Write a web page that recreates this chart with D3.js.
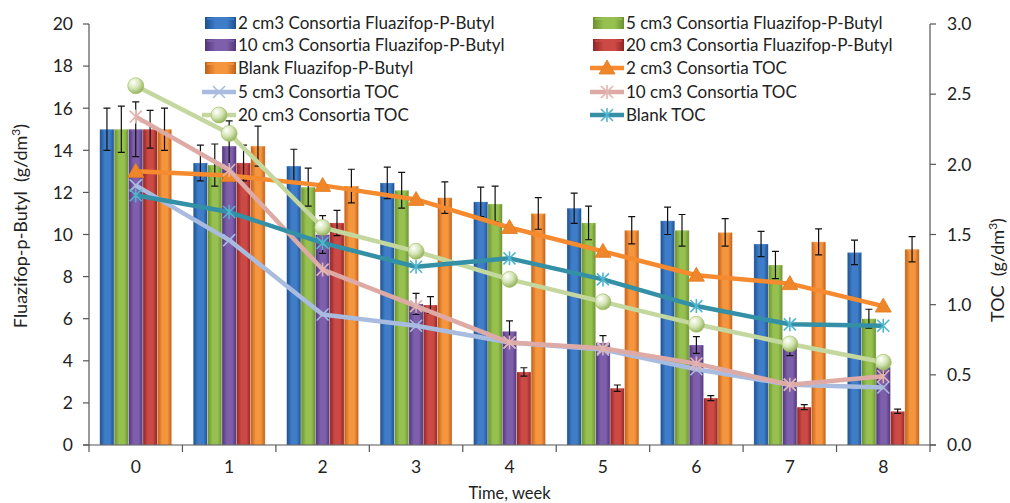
<!DOCTYPE html>
<html><head><meta charset="utf-8">
<script src="https://cdn.jsdelivr.net/npm/d3@7"></script>
<style>body{margin:0;background:#fff}svg{display:block}text{font-family:Lato,"Liberation Sans",sans-serif;fill:#222;font-variant-ligatures:none;white-space:pre}</style>
</head><body><svg id="c" width="1010" height="503"></svg>
<script>
const weeks = ["0","1","2","3","4","5","6","7","8"];
const barSeries = ["2 cm3 Consortia Fluazifop-P-Butyl","5 cm3 Consortia Fluazifop-P-Butyl","10 cm3 Consortia Fluazifop-P-Butyl","20 cm3 Consortia Fluazifop-P-Butyl","Blank Fluazifop-P-Butyl"];
const fpb2  = [15.0,13.4,13.25,12.45,11.55,11.25,10.65,9.55,9.15];
const fpb5  = [15.0,13.3,12.25,12.1,11.45,10.55,10.2,8.55,6.0];
const fpb10 = [15.0,14.2,10.0,6.7,5.4,4.85,4.75,4.65,3.7];
const fpb20 = [15.0,13.4,10.55,6.65,3.47,2.7,2.23,1.8,1.6];
const fpbBlank = [15.0,14.2,12.3,11.75,11.0,10.2,10.1,9.65,9.3];
const err2  = [1.0,0.85,0.8,0.75,0.7,0.72,0.65,0.6,0.58];
const err5  = [1.1,1.0,0.9,0.85,0.85,0.8,0.75,0.65,0.45];
const err10 = [1.3,1.2,0.9,0.5,0.5,0.35,0.4,0.4,0.3];
const err20 = [0.9,0.85,0.6,0.4,0.2,0.15,0.12,0.12,0.1];
const errBlank = [1.0,0.95,0.8,0.75,0.75,0.65,0.65,0.62,0.6];
const lineSeries = ["2 cm3 Consortia TOC","5 cm3 Consortia TOC","10 cm3 Consortia TOC","20 cm3 Consortia TOC","Blank TOC"];
const toc2  = [1.95,1.92,1.85,1.75,1.55,1.38,1.21,1.15,0.99];
const toc5  = [1.85,1.46,0.93,0.85,0.73,0.68,0.54,0.43,0.41];
const toc10 = [2.34,1.96,1.25,0.99,0.73,0.69,0.58,0.43,0.49];
const toc20 = [2.56,2.22,1.55,1.38,1.18,1.02,0.86,0.72,0.59];
const tocBlank = [1.78,1.66,1.44,1.27,1.33,1.18,0.99,0.86,0.85];
const leftTicks = [0,2,4,6,8,10,12,14,16,18,20];
const rightTicks = [0,0.5,1.0,1.5,2.0,2.5,3.0];

const barVals=[fpb2,fpb5,fpb10,fpb20,fpbBlank], barErrs=[err2,err5,err10,err20,errBlank];
const lineVals=[toc2,toc5,toc10,toc20,tocBlank];
const barCols=[["#1d4f8f","#3f7dc8"],["#6a9030","#96c050"],["#4f357a","#7e5fab"],["#8f2424","#cc4a46"],["#c05f18","#f5963f"]];
const lineCols=["#f58a2e","#a9bcdf","#deaaa6","#c4d79f","#3390a6"];
const markerCols=["#f0862a","#a9bcdf","#e3b5b2","#9bbb59","#52b5cf"];
const markerTypes=["tri","x","star","circle","star"];

const svg=d3.select("#c");
const L=89,R=930,T=24,B=445;
const x=d3.scaleBand().domain(weeks).range([L,R]).paddingInner(0.23).paddingOuter(0.115);
const x1=d3.scaleBand().domain(d3.range(5)).range([0,x.bandwidth()]);
const y=d3.scaleLinear().domain([0,20]).range([B,T]);
const y2=d3.scaleLinear().domain([0,3]).range([B,T]);

const defs=svg.append("defs");
barCols.forEach((c,i)=>{
  const g=defs.append("linearGradient").attr("id","bg"+i).attr("x1","0").attr("x2","1");
  g.append("stop").attr("offset","0").attr("stop-color",c[0]);
  g.append("stop").attr("offset","0.35").attr("stop-color",c[1]);
  g.append("stop").attr("offset","0.7").attr("stop-color",c[1]);
  g.append("stop").attr("offset","1").attr("stop-color",c[0]);
});
const rg=defs.append("radialGradient").attr("id","sph").attr("cx","0.35").attr("cy","0.3").attr("r","0.75");
rg.append("stop").attr("offset","0").attr("stop-color","#ffffff");
rg.append("stop").attr("offset","0.5").attr("stop-color","#d5e5b5");
rg.append("stop").attr("offset","1").attr("stop-color","#8fae55");

// bars
barVals.forEach((vals,i)=>{
  const g=svg.append("g");
  weeks.forEach((w,k)=>{
    const bx=x(w)+x1(i), bw=x1.bandwidth();
    g.append("rect").attr("x",bx).attr("y",y(vals[k])).attr("width",bw).attr("height",B-y(vals[k])).attr("fill",`url(#bg${i})`).attr("stroke","rgba(255,255,255,0.5)").attr("stroke-width",0.6);
    g.append("path").attr("d",`M${bx+1},${y(vals[k])+0.5}L${bx+bw-1},${y(vals[k])+0.5}L${bx+bw/2},${y(vals[k])+5}Z`).attr("fill",barCols[i][1]).attr("opacity",0.8);
  });
});
// error bars
barVals.forEach((vals,i)=>{
  weeks.forEach((w,k)=>{
    const cx=x(w)+x1(i)+x1.bandwidth()/2, e=barErrs[i][k];
    const y0=y(vals[k]+e), y1=y(vals[k]-e);
    svg.append("path").attr("d",`M${cx},${y0}V${y1}M${cx-3.5},${y0}H${cx+3.5}M${cx-3.5},${y1}H${cx+3.5}`).attr("stroke","#111").attr("stroke-width",1.2).attr("fill","none");
  });
});

function marker(g,type,cx,cy,i){
  const c=markerCols[i];
  if(type==="tri"){
    g.append("path").attr("d",`M${cx},${cy-8}L${cx+8},${cy+6}L${cx-8},${cy+6}Z`).attr("fill",c).attr("stroke","#e07a20").attr("stroke-width",0.8);
  } else if(type==="x"){
    g.append("path").attr("d",`M${cx-6},${cy-6}L${cx+6},${cy+6}M${cx-6},${cy+6}L${cx+6},${cy-6}`).attr("stroke",c).attr("stroke-width",1.6);
  } else if(type==="star"){
    g.append("path").attr("d",`M${cx-6},${cy-6}L${cx+6},${cy+6}M${cx-6},${cy+6}L${cx+6},${cy-6}M${cx},${cy-7}V${cy+7}`).attr("stroke",c).attr("stroke-width",1.6);
  } else {
    g.append("circle").attr("cx",cx).attr("cy",cy).attr("r",8).attr("fill","url(#sph)").attr("stroke","#9bbb59").attr("stroke-width",0.6);
  }
}
// lines
const cxw=w=>x(w)+x.bandwidth()/2;
lineVals.forEach((vals,i)=>{
  const g=svg.append("g");
  g.append("path").datum(vals).attr("d",d3.line().x((d,k)=>cxw(weeks[k])).y(d=>y2(d))).attr("fill","none").attr("stroke",lineCols[i]).attr("stroke-width",4.5).attr("stroke-linejoin","round");
  vals.forEach((v,k)=>marker(g,markerTypes[i],cxw(weeks[k]),y2(v),i));
});

// axes
const ax=svg.append("g").attr("stroke","#555").attr("stroke-width",1.2);
ax.append("line").attr("x1",L).attr("x2",L).attr("y1",T).attr("y2",B);
ax.append("line").attr("x1",R).attr("x2",R).attr("y1",T).attr("y2",B);
ax.append("line").attr("x1",L-6).attr("x2",R+6).attr("y1",B).attr("y2",B);
leftTicks.forEach(t=>{
  ax.append("line").attr("x1",L-6).attr("x2",L).attr("y1",y(t)).attr("y2",y(t));
  svg.append("text").attr("x",L-16).attr("y",y(t)).attr("dy","0.36em").attr("text-anchor","end").style("font-size","17.5px").text(t);
});
rightTicks.forEach(t=>{
  ax.append("line").attr("x1",R).attr("x2",R+6).attr("y1",y2(t)).attr("y2",y2(t));
  svg.append("text").attr("x",R+17).attr("y",y2(t)).attr("dy","0.36em").attr("text-anchor","start").style("font-size","17.5px").text(t.toFixed(1));
});
const xt=[...weeks.map(w=>x(w)-x.step()*x.paddingInner()/2), R];
xt.forEach(v=>ax.append("line").attr("x1",v).attr("x2",v).attr("y1",B).attr("y2",B+7));
weeks.forEach(w=>svg.append("text").attr("x",cxw(w)).attr("y",467).attr("dy","0.36em").attr("text-anchor","middle").style("font-size","17.5px").text(w));
svg.append("text").attr("x",(L+R)/2).attr("y",493).attr("dy","0.36em").attr("text-anchor","middle").style("font-size","16.5px").text("Time, week");
const lt=svg.append("text").attr("transform","translate(27,226) rotate(-90)").attr("text-anchor","middle").style("font-size","18px");
lt.append("tspan").text("Fluazifop-p-Butyl  (g/dm");
lt.append("tspan").attr("dy",-7).style("font-size","12px").text("3");
lt.append("tspan").attr("dy",7).text(")");
const rt=svg.append("text").attr("transform","translate(1004,270) rotate(-90)").attr("text-anchor","middle").style("font-size","18px");
rt.append("tspan").text("TOC  (g/dm");
rt.append("tspan").attr("dy",-7).style("font-size","12px").text("3");
rt.append("tspan").attr("dy",7).text(")");

// legend
const legItems=[];
for(let r=0;r<5;r++){legItems.push(r*2,r*2+1);}
const allNames=[...barSeries,...lineSeries];
const colX=[205,593], rowY=[23,45,68,92,115];
legItems.forEach((idx,j)=>{
  const col=j%2,row=Math.floor(j/2);
  const lx=colX[col], ly=rowY[row];
  const g=svg.append("g");
  if(idx<5){
    g.append("rect").attr("x",lx).attr("y",ly-6).attr("width",31).attr("height",12).attr("fill",`url(#bg${idx})`);
    g.append("rect").attr("x",lx+2).attr("y",ly-5).attr("width",27).attr("height",2).attr("fill",barCols[idx][1]).attr("opacity",0.8);
  } else {
    const i=idx-5;
    g.append("line").attr("x1",lx-3).attr("x2",lx+31).attr("y1",ly).attr("y2",ly).attr("stroke",lineCols[i]).attr("stroke-width",4.5);
    marker(g,markerTypes[i],lx+14,ly,i);
  }
  g.append("text").attr("x",lx+33).attr("y",ly).attr("dy","0.36em").style("font-size","17px").text(allNames[idx]);
});
</script></body></html>
